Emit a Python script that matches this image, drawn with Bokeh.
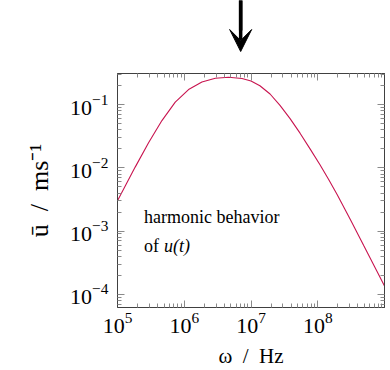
from bokeh.plotting import figure
from bokeh.layouts import column
from bokeh.models import Range1d, LogAxis, FixedTicker, Arrow, VeeHead, CustomJSTickFormatter
from bokeh.core.properties import value
from bokeh.embed import file_html
from bokeh.resources import INLINE

# data
omega = [1.00e5, 1.84e5, 2.92e5, 4.63e5, 7.33e5, 1.16e6, 1.84e6, 2.92e6, 4.61e6,
         7.33e6, 1.00e7, 1.36e7, 1.93e7, 2.72e7, 3.85e7, 5.43e7, 7.67e7, 1.08e8,
         1.45e8, 1.95e8, 3.09e8, 4.88e8, 7.74e8, 1.00e9]
u_bar = [3.02e-3, 1.03e-2, 2.51e-2, 5.62e-2, 0.110, 0.174, 0.229, 0.263, 0.272,
         0.260, 0.237, 0.200, 0.148, 0.0977, 0.0603, 0.0355, 0.0200, 0.0112,
         6.61e-3, 3.80e-3, 1.51e-3, 5.89e-4, 2.29e-4, 1.35e-4]

x_major = [1e5, 1e6, 1e7, 1e8]
y_major = [1e-4, 1e-3, 1e-2, 1e-1]
x_minor = [k * 10.0 ** n for n in range(5, 9) for k in range(2, 10)]
y_minor = [k * 10.0 ** n for n in range(-5, 0) for k in range(2, 10)]

x_lo, x_hi = 1e5, 1e9
y_lo, y_hi = 6.17e-5, 0.3126

note_omega, note_u1, note_u2 = 2.5e5, 1.66e-3, 5.8e-4
arrow_omega = 7.0e6

FONT = "Liberation Serif"
FRAME = "#404040"
TICK = "#8a8a8a"
CURVE = "#c8144f"
EN = "\u2002"

x_range = Range1d(x_lo, x_hi)

# strip above the plot holding the arrow
top = figure(width=386, height=60, x_axis_type="log", x_range=x_range,
             y_range=Range1d(0, 1), output_backend="svg", toolbar_location=None,
             x_axis_location=None, y_axis_location=None, title=None,
             min_border_left=117, min_border_right=2, min_border_top=0,
             min_border_bottom=0)
top.grid.visible = False
top.outline_line_color = None
top.segment(x0=[arrow_omega], y0=[1.07], x1=[arrow_omega], y1=[0.5],
            line_width=3.5, line_color="black")
top.add_layout(Arrow(end=VeeHead(size=22, fill_color="black", line_color="black"),
                     x_start=arrow_omega, x_end=arrow_omega,
                     y_start=1.07, y_end=0.15,
                     line_width=3.5, line_color="black"))

p = figure(width=386, height=310, x_axis_type="log", y_axis_type="log",
           x_range=x_range, y_range=Range1d(y_lo, y_hi), title=None,
           output_backend="svg", toolbar_location=None,
           min_border_left=117, min_border_right=2, min_border_top=13,
           min_border_bottom=63)
p.grid.visible = False
p.outline_line_color = FRAME
p.outline_line_width = 1

top_ax = LogAxis()
right_ax = LogAxis()
p.add_layout(top_ax, "above")
p.add_layout(right_ax, "right")

for ax in p.xaxis:
    ax.ticker = FixedTicker(ticks=x_major, minor_ticks=x_minor)
for ax in p.yaxis:
    ax.ticker = FixedTicker(ticks=y_major, minor_ticks=y_minor)

for ax in p.xaxis + p.yaxis:
    ax.axis_line_color = FRAME
    ax.major_tick_line_color = TICK
    ax.minor_tick_line_color = TICK
    ax.major_tick_in = 7
    ax.major_tick_out = 0
    ax.minor_tick_in = 4
    ax.minor_tick_out = 0
    ax.major_label_text_font = FONT
    ax.major_label_text_font_size = "22px"
    ax.major_label_text_color = "black"
    ax.axis_label_text_font = FONT
    ax.axis_label_text_font_size = "21px"
    ax.axis_label_text_font_style = "normal"
    ax.axis_label_text_color = "black"

for ax in (top_ax, right_ax):
    ax.formatter = CustomJSTickFormatter(code="return ''")
    ax.major_label_standoff = 0
    ax.major_label_text_font_size = "1px"

p.below[0].axis_label = "ω" + EN + "/" + EN + "Hz"
p.below[0].major_label_standoff = 5
p.below[0].axis_label_standoff = 8
p.left[0].axis_label = "ū" + EN + "/" + EN + "ms⁻¹"
p.left[0].axis_label_text_font_size = "26px"
p.left[0].major_label_standoff = 9
p.left[0].axis_label_standoff = 13

p.line(omega, u_bar, line_color=CURVE, line_width=1.1)

p.text(x=[note_omega], y=[note_u1], text=["harmonic behavior"],
       text_font=value(FONT), text_font_size="18px", text_baseline="alphabetic",
       text_color="black")
p.text(x=[note_omega], y=[note_u2], text=["of"],
       text_font=value(FONT), text_font_size="18px", text_baseline="alphabetic",
       text_color="black")
p.text(x=[note_omega], y=[note_u2], text=["u(t)"], x_offset=20,
       text_font=value(FONT), text_font_size="18px", text_font_style="italic",
       text_baseline="alphabetic", text_color="black")

layout = column(top, p)
open("out.html", "w").write(file_html(layout, INLINE))
